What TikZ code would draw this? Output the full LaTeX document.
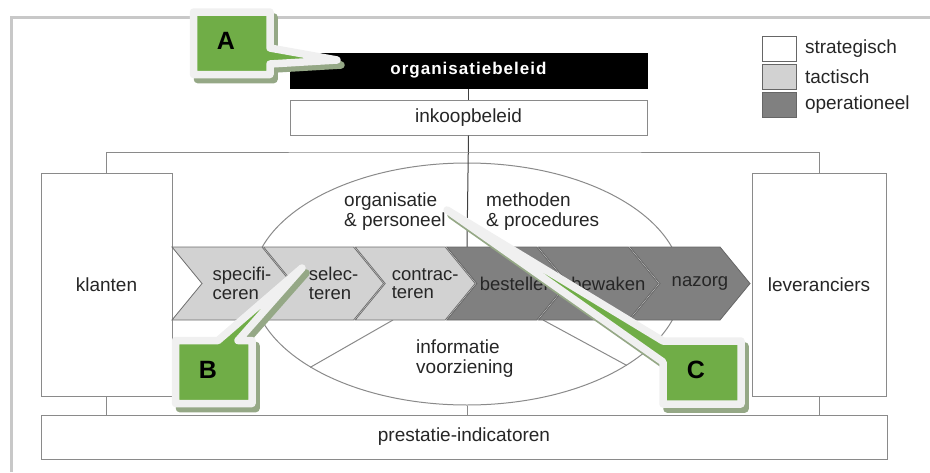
\documentclass[tikz,border=0pt]{standalone}
\usepackage{fontspec}
\setmainfont{Liberation Sans}
\newfontfamily\spatiefont[LetterSpace=6]{Liberation Sans}
\usepackage{tikz}
\usetikzlibrary{positioning, shapes.geometric}
\definecolor{lijngrijs}{HTML}{8A8A8A}
\definecolor{lichtgrijs}{HTML}{D2D2D2}
\definecolor{donkergrijs}{HTML}{808080}
\definecolor{kadergrijs}{HTML}{C8C8C8}
\definecolor{groen}{HTML}{70AD47}
\definecolor{randwit}{HTML}{F0F0F0}
\definecolor{schaduw}{HTML}{95A886}

\begin{document}
\begin{tikzpicture}[x=1pt, y=-1pt,
    every node/.style={font=\fontsize{19}{20}\selectfont, text=black!85},
    blok/.style={draw=lijngrijs, line width=1pt, fill=white, inner sep=0pt},
    lijn/.style={draw=lijngrijs, line width=1pt},
    licht/.style={fill=lichtgrijs, draw=lijngrijs!80!black, line width=0.8pt},
    donker/.style={fill=donkergrijs, draw=black!60, line width=0.8pt},
    staptekst/.style={align=left, inner sep=0pt, font=\fontsize{18.5}{18.5}\selectfont},
    legblok/.style={draw=black!60, line width=1pt, minimum width=34pt, minimum height=25pt, inner sep=0pt},
    callout/.style={fill=groen, draw=randwit, line width=7.5pt, line join=round},
    schaduwvorm/.style={fill=schaduw, draw=schaduw, line width=7.5pt, line join=round, shift={(4,5)}},
    letter/.style={font=\fontsize{25}{25}\selectfont\bfseries, text=black}
]
    \useasboundingbox (0,0) rectangle (930,472);

    % outer frame
    \draw[kadergrijs, line width=3pt] (11,472) -- (11,17) -- (930,17);

    % policy boxes
    \node[blok, fill=black, draw=black, minimum width=357pt, minimum height=35pt,
          font=\fontsize{17}{17}\spatiefont\bfseries, text=white] (org) at (468.5,70.5) {organisatiebeleid};
    \node[blok, minimum width=357pt, minimum height=35pt] (inkoop) at (468.5,117.5) {inkoopbeleid};

    % customers, suppliers, indicators
    \node[blok, minimum width=131pt, minimum height=223pt] (klanten) at (106.5,284.5) {klanten};
    \node[blok, minimum width=134pt, minimum height=223pt] (lev) at (819,284.5) {leveranciers};
    \node[blok, minimum width=846pt, minimum height=44pt] (prestatie) at (464,437) {prestatie-indicatoren};

    % core ellipse
    \node[ellipse, draw=lijngrijs, line width=1pt, minimum width=430pt, minimum height=242pt,
          inner sep=0pt] (kern) at (467,284) {};

    \coordinate (brug) at (467,152);
    \coordinate (bandboven) at (467,247);
    \coordinate (bandlinks) at (393,320);
    \coordinate (bandrechts) at (543,320);

    % connectors
    \draw[black!75, line width=1pt] (org.south) -- (inkoop.north);
    \draw[black!75, line width=1pt] (inkoop.south) -- (bandboven);
    \draw[lijn] (klanten.north) |- (brug) -| (lev.north);
    \draw[lijn] (klanten.south) -- (klanten.south |- prestatie.north);
    \draw[lijn] (lev.south) -- (lev.south |- prestatie.north);
    \draw[lijn] (kern.south) -- (kern.south |- prestatie.north);
    \draw[lijn] (bandlinks) -- (kern.208);
    \draw[lijn] (bandrechts) -- (kern.333);

    % process chevrons
    \foreach \i/\soort/\tekst in {0/licht/{specifi-\\ceren}, 1/licht/{selec-\\teren},
            2/licht/{contrac-\\teren}, 3/donker/{bestellen}, 4/donker/{bewaken}, 5/donker/{nazorg}} {
        \pgfmathsetmacro\L{172+91.6*\i}
        \draw[\soort] (\L,247) -- ++(90,0) -- ++(30,36.5) -- ++(-30,36.5) -- ++(-90,0)
            -- ++(30,-36.5) -- cycle;
        \node[staptekst] (stap\i) at (\L+70,283.5) {\tekst};
    }

    % ellipse labels
    \node[anchor=west, align=left, inner sep=0pt] (orgpers) at (344,212) {organisatie\\\& personeel};
    \node[anchor=west, align=left, inner sep=0pt] (methoden) at (486,212) {methoden\\\& procedures};
    \node[anchor=west, align=left, inner sep=0pt] (info) at (416,359) {informatie\\voorziening};

    % legend
    \node[legblok, fill=white] (leg1) at (779,48.5) {};
    \node[legblok, fill=lichtgrijs] (leg2) at (779,76.5) {};
    \node[legblok, fill=donkergrijs] (leg3) at (779,104.5) {};
    \node[right=5pt of leg1] (legtekst1) {strategisch};
    \node[right=5pt of leg2] (legtekst2) {tactisch};
    \node[right=5pt of leg3] (legtekst3) {operationeel};

    % callout A
    \draw[schaduwvorm] (193.5,12) -- (270,12) -- (270,48) -- (337,60) -- (270,64)
        -- (270,74.5) -- (193.5,74.5) -- cycle;
    \draw[callout] (193.5,12) -- (270,12) -- (270,48) -- (337,60) -- (270,64)
        -- (270,74.5) -- (193.5,74.5) -- cycle;
    \node[letter] (A) at (226,41) {A};

    % callout B
    \draw[schaduwvorm] (175.5,340.5) -- (218,340.5) -- (302,268) -- (238,340.5)
        -- (252,340.5) -- (252,403.5) -- (175.5,403.5) -- cycle;
    \draw[callout] (175.5,340.5) -- (218,340.5) -- (302,268) -- (238,340.5)
        -- (252,340.5) -- (252,403.5) -- (175.5,403.5) -- cycle;
    \node[letter] (B) at (208,370) {B};

    % callout C
    \draw[schaduwvorm] (663,341) -- (741,341) -- (741,404) -- (663,404) -- (663,362)
        -- (447,210) -- cycle;
    \draw[callout] (663,341) -- (741,341) -- (741,404) -- (663,404) -- (663,362)
        -- (447,210) -- cycle;
    \node[letter] (C) at (696,370) {C};
\end{tikzpicture}
\end{document}
